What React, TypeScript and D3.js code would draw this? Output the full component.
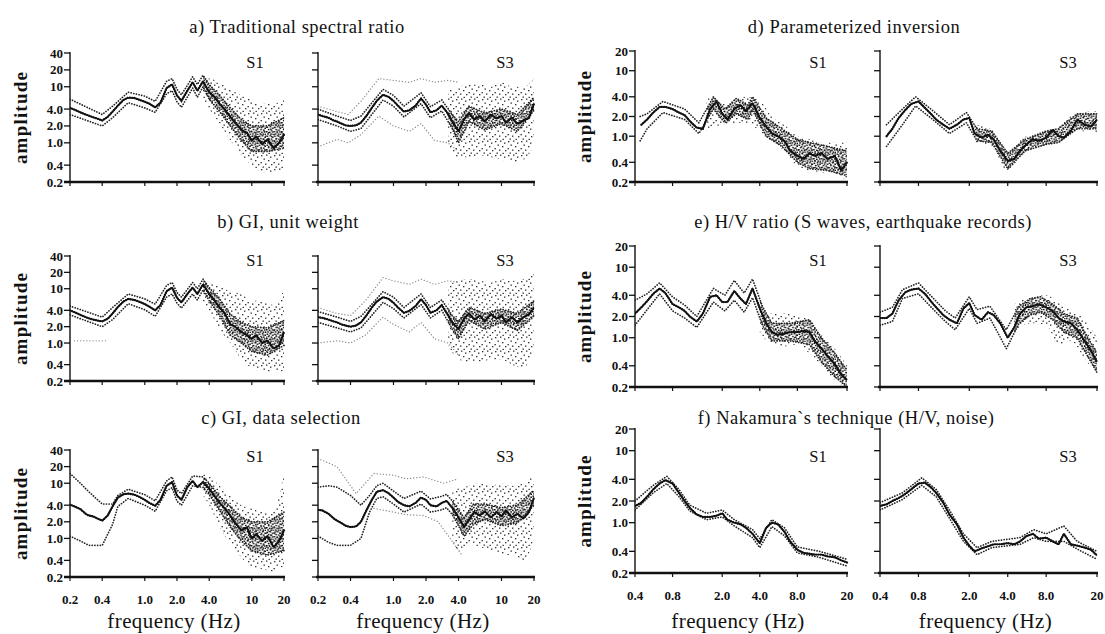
import React from "react";
import * as d3 from "d3";

// ---------------- DATA ----------------
const FREQ_LEFT = [0.2,0.22,0.25,0.28,0.3,0.33,0.36,0.4,0.45,0.5,0.56,0.63,0.7,0.8,0.9,1.0,1.1,1.25,1.4,1.6,1.8,2.0,2.2,2.5,2.8,3.1,3.5,4.0,4.5,5.0,5.6,6.3,7.0,8.0,9.0,10,11,12.5,14,16,18,20];
const FREQ_RIGHT = [0.4,0.45,0.5,0.56,0.63,0.7,0.8,0.9,1.0,1.1,1.25,1.4,1.6,1.8,2.0,2.2,2.5,2.8,3.1,3.5,4.0,4.5,5.0,5.6,6.3,7.0,8.0,9.0,10,11,12.5,14,16,18,20];

const LEFT_X_TICKS = [0.2, 0.4, 1, 2, 4, 10, 20];
const LEFT_X_LABELS = ["0.2", "0.4", "1.0", "2.0", "4.0", "10", "20"];
const RIGHT_X_TICKS = [0.4, 0.8, 2, 4, 8, 20];
const RIGHT_X_LABELS = ["0.4", "0.8", "2.0", "4.0", "8.0", "20"];
const LEFT_Y_TICKS = [0.2, 0.4, 1, 2, 4, 10, 20, 40];
const LEFT_Y_LABELS = ["0.2", "0.4", "1.0", "2.0", "4.0", "10", "20", "40"];
const RIGHT_Y_TICKS = [0.2, 0.4, 1, 2, 4, 10, 20];
const RIGHT_Y_LABELS = ["0.2", "0.4", "1.0", "2.0", "4.0", "10", "20"];

const TITLES = [
  "a) Traditional spectral ratio",
  "b) GI, unit weight",
  "c) GI, data selection",
  "d) Parameterized inversion",
  "e) H/V ratio (S waves, earthquake records)",
  "f) Nakamura`s technique (H/V, noise)",
];
const STATIONS = ["S1", "S3"];

// a) traditional spectral ratio
const A_S1_MEAN = [4.2,3.9,3.5,3.2,3.05,2.85,2.7,2.5,2.9,3.6,4.6,5.8,6.4,6.3,5.8,5.4,5.0,4.3,5.2,9.5,11,7.0,5.6,8.5,12,8.5,12.5,8.0,6.5,5.0,3.9,2.9,2.3,1.7,1.5,1.1,1.3,0.95,1.15,0.8,1.0,1.4];
const A_S1_BAND_F = [0.2,0.4,0.5,0.7,1.0,1.25,1.6,1.8,2.0,2.2,2.8,3.1,3.5,4.0,5.0,6.3,8,10,14,20];
const A_S1_BAND_HI = [6.0,3.2,4.5,8.0,6.8,5.5,12.5,14,9,7.2,15,11,16,11,7,4.2,2.6,2.0,2.0,2.8];
const A_S1_BAND_LO = [3.2,2.0,2.8,5.2,4.2,3.5,7.5,8.5,5.4,4.3,9.5,6.5,10,6,3.6,2.0,1.1,0.7,0.7,0.8];
const A_S1_CLOUD_F = [3.5,4,5,6.3,8,10,12.5,16,20];
const A_S1_CLOUD_HI = [14,14,12,9,7,6,5,5,6];
const A_S1_CLOUD_LO = [6,4,2.2,1.1,0.6,0.4,0.3,0.3,0.35];

const A_S3_MEAN = [3.2,3.0,2.8,2.5,2.4,2.2,2.05,2.0,2.05,2.3,3.0,4.2,5.6,7.2,6.6,5.6,4.6,3.6,3.8,4.6,6.2,4.8,3.5,3.8,4.6,3.6,2.4,1.6,2.6,3.4,2.6,3.0,2.4,3.2,2.7,3.0,2.3,2.8,2.2,2.5,2.8,5.0];
const A_S3_BAND_F = [0.2,0.3,0.4,0.5,0.8,1.0,1.25,1.8,2.2,2.8,3.5,4.0,5,7,10,14,20];
const A_S3_BAND_HI = [4.0,3.0,2.5,3.0,9,7,4.5,7.8,4.4,5.8,3.2,2.4,4.5,3.4,4.0,3.2,6.5];
const A_S3_BAND_LO = [2.6,2.0,1.6,1.8,5.8,4.5,2.9,5.0,2.8,3.7,1.8,1.0,2.4,1.7,2.2,1.6,3.8];
const A_S3_OUT_F = [0.2,0.3,0.38,0.5,0.73,1.0,1.4,1.8,2.4,3.2,4.0];
const A_S3_OUT_HI = [4.5,3.6,3.2,5.5,14,13,12,14,12,13,12];
const A_S3_OUT_LO = [0.85,1.15,1.0,1.4,3.0,2.0,1.6,2.2,1.1,1.0,0.7];
const A_S3_CLOUD_F = [3.2,4,5,6.3,8,10,12.5,16,20];
const A_S3_CLOUD_HI = [9,10,11,11,10,12,10,10,14];
const A_S3_CLOUD_LO = [0.9,0.55,0.55,0.6,0.55,0.5,0.45,0.5,0.9];

// b) GI, unit weight
const B_S1_MEAN = [4.0,3.7,3.3,3.0,2.85,2.7,2.6,2.5,2.8,3.5,4.6,5.8,6.5,6.2,5.7,5.2,4.7,4.0,5.0,9.0,10.5,6.8,5.6,8.0,10.5,8.0,12,8.0,6.0,4.5,3.5,2.2,2.0,1.6,1.4,1.2,1.4,1.0,1.1,0.8,0.9,1.6];
const B_S1_BAND_F = [0.2,0.4,0.5,0.7,1.0,1.25,1.6,1.8,2.0,2.2,2.8,3.1,3.5,4.0,5.0,6.3,8,10,14,20];
const B_S1_BAND_HI = [4.8,3.0,4.5,8,6.5,5.2,11.5,13,8.5,7,13,10,15,10.5,6.5,3.4,2.4,2.0,1.9,2.6];
const B_S1_BAND_LO = [3.3,2.0,2.7,5.3,4.1,3.1,7,8,5.4,4.4,8,6.2,9.5,6,3.2,1.4,1.0,0.7,0.6,0.9];
const B_S1_OUT_LO_F = [0.22,0.3,0.45];
const B_S1_OUT_LO = [1.1,1.1,1.1];
const B_S1_CLOUD_F = [3.5,4,5,6.3,8,10,12.5,16,20];
const B_S1_CLOUD_HI = [14,13,11,9,8,6,6,5,10];
const B_S1_CLOUD_LO = [6,4,1.8,1.0,0.5,0.35,0.3,0.3,0.3];

const B_S3_MEAN = [3.0,2.9,2.7,2.5,2.4,2.2,2.1,2.0,2.1,2.4,3.2,4.5,5.8,7.0,6.5,5.5,4.5,3.6,3.9,4.8,6.4,5.0,3.6,4.0,5.0,3.6,2.4,1.8,2.8,3.5,2.7,3.2,2.5,3.4,2.8,3.2,2.4,3.0,2.4,3.0,3.4,4.5];
const B_S3_BAND_F = [0.2,0.3,0.4,0.5,0.8,1.0,1.25,1.8,2.2,2.8,3.5,4.0,5,7,10,14,20];
const B_S3_BAND_HI = [3.8,3.0,2.5,3.1,8.8,7,4.5,8,4.5,6.2,3.2,2.5,4.5,3.5,4.2,3.5,6];
const B_S3_BAND_LO = [2.4,1.9,1.6,1.9,5.6,4.3,2.9,5.1,2.9,4,1.8,1.2,2.6,1.8,2.4,1.7,3.2];
const B_S3_OUT_F = [0.2,0.3,0.4,0.55,0.8,1.0,1.4,1.8,2.4,3.2,4.0];
const B_S3_OUT_HI = [4.5,3.5,3.2,6,16,14,12,15,12,14,13];
const B_S3_OUT_LO = [1.0,1.1,1.0,1.4,3.0,2.2,1.6,2.4,1.2,1.0,0.6];
const B_S3_CLOUD_F = [3.2,4,5,6.3,8,10,12.5,16,20];
const B_S3_CLOUD_HI = [12,14,15,14,13,15,14,15,25];
const B_S3_CLOUD_LO = [0.9,0.5,0.45,0.45,0.5,0.5,0.4,0.35,0.8];

// c) GI, data selection
const C_S1_MEAN = [4.1,3.8,3.4,2.8,2.6,2.5,2.3,2.1,2.6,3.8,5.5,6.3,6.5,6.2,5.6,5.0,4.4,3.9,5.0,9.0,10.5,6.0,5.0,8.5,11,8.5,10.5,8.0,5.8,4.4,3.5,2.6,1.9,1.4,1.6,1.0,1.2,0.9,1.1,0.7,0.9,1.4];
const C_S1_BAND_F = [0.2,0.25,0.3,0.4,0.5,0.56,0.7,1.0,1.25,1.6,1.8,2.0,2.2,2.8,3.5,4.0,5.0,6.3,8,10,14,20];
const C_S1_BAND_HI = [15,10,7,4.2,4.2,6,7.8,6.2,4.8,11,13,7.5,6.5,13.5,13,10,5.8,3.8,2.4,2.0,2.0,3.0];
const C_S1_BAND_LO = [1.1,0.9,0.75,0.75,1.8,3.8,5.3,4.0,3.1,7.3,8.3,4.7,4.0,9,8.4,6.2,3.2,1.6,0.9,0.6,0.5,0.6];
const C_S1_CLOUD_F = [3.5,4,5,6.3,8,10,12.5,16,18,20];
const C_S1_CLOUD_HI = [16,14,9,6,4,3.5,3,3,6,16];
const C_S1_CLOUD_LO = [6,4,1.6,0.8,0.45,0.3,0.28,0.25,0.3,0.3];

const C_S3_MEAN = [3.3,3.2,2.8,2.3,2.1,1.9,1.7,1.6,1.65,2.0,3.2,5.0,7.0,7.5,6.6,5.5,4.6,4.0,3.8,4.4,5.5,5.0,4.0,3.8,4.4,4.8,3.6,2.4,1.6,2.2,3.0,2.6,3.1,2.4,3.0,2.5,3.2,2.4,2.8,2.3,3.0,5.5];
const C_S3_BAND_F = [0.2,0.25,0.3,0.4,0.5,0.6,0.7,0.8,1.0,1.25,1.8,2.2,2.8,3.1,3.5,4.0,4.5,5.5,7,10,14,20];
const C_S3_BAND_HI = [8.5,9,8.5,6,4.0,6,9,10,7.2,5.3,7.2,5.2,5.8,6.3,4.8,3.3,2.4,4.2,4.2,3.6,4.0,7.5];
const C_S3_BAND_LO = [1.1,0.85,0.75,0.75,1.0,3.0,5.3,5.7,4.2,3.0,4.2,3.0,3.3,3.6,2.7,1.7,1.1,1.8,2.2,1.7,1.9,4.0];
const C_S3_OUT_HI_F = [0.2,0.3,0.45,0.66,1.0,1.3,1.9,2.9,4.0];
const C_S3_OUT_HI = [28,20,6.5,15,14,12,13,10,12];
const C_S3_OUT_LO_F = [0.66,1.0,1.3,1.9,2.6,4.3];
const C_S3_OUT_LO = [3.5,3.0,2.7,2.6,2.0,0.5];
const C_S3_CLOUD_F = [3.5,4,5,6.3,8,10,12.5,16,20];
const C_S3_CLOUD_HI = [8,8,9,10,9,10,9,10,16];
const C_S3_CLOUD_LO = [1.0,0.6,0.8,0.7,0.6,0.5,0.5,0.4,1.0];

// d) parameterized inversion
const D_S1_MEAN = [null,1.5,1.8,2.3,2.8,2.8,2.6,2.3,2.1,1.7,1.35,1.3,2.6,3.4,2.2,1.8,2.6,3.0,2.4,3.2,1.9,1.4,1.1,1.0,0.85,0.6,0.5,0.45,0.55,0.5,0.55,0.45,0.5,0.3,0.4];
const D_S1_BAND_F = [0.44,0.5,0.67,1.0,1.3,1.7,2.1,2.6,3.2,3.5,4.5,6,8,10,14,20];
const D_S1_BAND_HI = [2.0,2.2,3.4,2.6,1.6,4.0,2.6,3.8,3.0,4.0,1.9,1.3,0.9,0.8,0.7,0.6];
const D_S1_BAND_LO = [0.85,1.3,2.3,1.8,1.1,2.6,1.6,2.2,1.8,2.5,1.0,0.7,0.4,0.32,0.3,0.25];
const D_S1_CLOUD_F = [1.5,2,3,4,5,6.3,8,10,12.5,16,20];
const D_S1_CLOUD_HI = [4,3.2,4,3.5,2,1.5,1.0,0.9,0.8,0.8,0.8];
const D_S1_CLOUD_LO = [1.2,1.5,1.6,1.2,0.8,0.6,0.35,0.3,0.28,0.25,0.22];

const D_S3_MEAN = [null,1.0,1.3,1.9,2.5,3.1,3.4,2.7,2.2,1.8,1.5,1.3,1.5,1.8,1.9,1.1,0.95,1.05,0.9,0.6,0.42,0.45,0.6,0.75,0.9,0.85,0.95,1.25,1.0,0.95,1.2,1.8,1.5,1.4,1.8];
const D_S3_BAND_F = [0.45,0.6,0.76,1.0,1.4,1.9,2.3,3.0,4.0,5.5,8,10,14,20];
const D_S3_BAND_HI = [1.5,2.6,4.0,2.6,1.5,2.3,1.3,1.2,0.55,0.9,1.2,1.3,2.2,2.2];
const D_S3_BAND_LO = [0.7,1.5,2.9,1.9,1.1,1.6,0.85,0.8,0.32,0.6,0.75,0.8,1.3,1.3];
const D_S3_CLOUD_F = [2.2,3,4,5,7,10,14,20];
const D_S3_CLOUD_HI = [1.5,1.3,0.6,0.9,1.1,1.4,2.3,2.4];
const D_S3_CLOUD_LO = [0.8,0.7,0.28,0.5,0.7,0.8,1.2,1.1];

// e) H/V ratio, S waves
const E_S1_MEAN = [2.2,2.7,3.3,4.2,5.0,4.3,3.0,2.7,2.4,2.0,1.7,2.2,3.8,4.0,3.2,3.2,4.6,3.6,3.0,5.0,2.6,1.6,1.2,1.1,1.15,1.2,1.2,1.25,1.2,0.9,0.7,0.55,0.42,0.3,0.25];
const E_S1_BAND_F = [0.4,0.5,0.63,0.8,1.0,1.25,1.7,2.1,2.5,3.0,3.5,4.2,5,7,10,12.5,16,20];
const E_S1_BAND_HI = [3.4,4.2,6,3.8,2.9,2.0,5.0,4.0,6.5,4.3,6.8,2.8,1.6,1.6,1.8,1.0,0.6,0.35];
const E_S1_BAND_LO = [1.5,2.5,4.2,2.4,1.9,1.4,3.2,2.4,3.4,2.3,3.7,1.5,0.9,0.9,0.8,0.45,0.28,0.2];
const E_S1_CLOUD_F = [4,5,6.3,8,10,12.5,16,20];
const E_S1_CLOUD_HI = [3,2.2,2.2,2.0,1.8,1.1,0.7,0.4];
const E_S1_CLOUD_LO = [1.2,0.8,0.75,0.8,0.6,0.4,0.25,0.2];

const E_S3_MEAN = [1.9,1.9,2.2,3.4,4.4,4.8,5.0,4.2,3.3,2.7,2.1,1.8,1.6,2.6,3.1,2.1,1.8,2.3,2.1,1.6,1.0,1.4,2.2,2.7,2.8,3.0,2.7,2.4,1.9,1.7,1.6,1.3,0.9,0.65,0.45];
const E_S3_BAND_F = [0.4,0.5,0.6,0.8,1.05,1.3,1.55,2.0,2.3,2.9,3.9,4.9,6,7.2,9,11,14,16,20];
const E_S3_BAND_HI = [2.3,2.7,4.8,6.0,3.6,2.4,1.9,3.8,2.5,2.8,1.3,2.8,3.6,3.8,3.0,2.2,1.9,1.2,0.6];
const E_S3_BAND_LO = [1.5,1.7,3.6,4.2,2.5,1.7,1.3,2.6,1.6,1.9,0.7,1.6,2.1,2.3,1.8,1.2,1.0,0.65,0.32];
const E_S3_CLOUD_F = [4.5,6,8,10,12.5,16,20];
const E_S3_CLOUD_HI = [3,3.8,4,3.2,2.5,1.8,1.0];
const E_S3_CLOUD_LO = [1.2,1.6,1.5,0.8,0.9,0.5,0.3];

// f) Nakamura's technique
const F_S1_MEAN = [1.7,1.9,2.3,2.9,3.5,3.9,3.5,2.6,2.0,1.6,1.3,1.2,1.2,1.25,1.35,1.1,1.0,0.95,0.85,0.7,0.52,0.85,1.0,0.95,0.75,0.55,0.42,0.38,0.37,0.36,0.36,0.34,0.33,0.3,0.28];
const F_S1_BAND_F = [0.4,0.56,0.72,0.9,1.1,1.5,2.0,2.5,3.5,4.0,5.0,6.3,8,12,20];
const F_S1_BAND_HI = [2.0,3.3,4.4,2.9,1.75,1.35,1.5,1.1,0.8,0.6,1.1,0.85,0.46,0.4,0.31];
const F_S1_BAND_LO = [1.5,2.6,3.5,2.3,1.45,1.1,1.2,0.9,0.62,0.45,0.88,0.66,0.38,0.33,0.25];

const F_S3_MEAN = [1.7,1.8,2.0,2.2,2.5,2.9,3.5,3.6,3.1,2.6,1.9,1.3,0.95,0.62,0.48,0.4,0.44,0.47,0.5,0.5,0.52,0.5,0.55,0.65,0.7,0.6,0.62,0.55,0.5,0.7,0.5,0.48,0.45,0.42,0.35];
const F_S3_BAND_F = [0.4,0.6,0.85,1.1,1.4,1.8,2.3,3,5,6.4,8,11,14,20];
const F_S3_BAND_HI = [1.9,2.6,4.2,2.9,1.5,0.7,0.45,0.55,0.62,0.8,0.7,0.9,0.55,0.4];
const F_S3_BAND_LO = [1.5,2.1,3.3,2.3,1.15,0.55,0.36,0.45,0.5,0.62,0.55,0.55,0.43,0.31];

// ---------------- LAYOUT / STYLE ----------------
const W = 1105;
const H = 634;
const FONT = "'Liberation Serif', 'DejaVu Serif', 'Times New Roman', serif";
const LEFT_ROWS = [
  { top: 53, bottom: 182 },
  { top: 256, bottom: 381 },
  { top: 450, bottom: 577 },
];
const RIGHT_ROWS = [
  { top: 51, bottom: 182 },
  { top: 246, bottom: 387 },
  { top: 429, bottom: 573 },
];
const LEFT_COLS = [
  { x0: 70, x1: 284 },
  { x0: 318, x1: 534 },
];
const RIGHT_COLS = [
  { x0: 635, x1: 847 },
  { x0: 880, x1: 1097 },
];
const TITLE_BASE = [33, 228, 424];
const TITLE_X = [297, 288, 281, 854, 863, 846];
const STATION_BASE = [68, 266, 462];

type Pt = [number, number | null];
const zip = (f: number[], v: (number | null)[]): Pt[] => f.map((x, i) => [x, v[i]] as Pt);

interface Cloud { f: number[]; hi: number[]; lo: number[] }
interface PanelSpec {
  id: string;
  box: { x0: number; x1: number; top: number; bottom: number };
  fDomain: [number, number];
  yDomain: [number, number];
  xTicks: number[];
  xLabels: string[] | null;
  yTicks: number[];
  yLabels: string[] | null;
  station: string;
  stationY: number;
  mean: Pt[];
  bandF: number[];
  bandHi: number[];
  bandLo: number[];
  outHi?: Pt[];
  outLo?: Pt[];
  cloud?: Cloud;
}

function makePanels(): PanelSpec[] {
  const left = (row: number, col: number) => ({ ...LEFT_COLS[col], ...LEFT_ROWS[row] });
  const right = (row: number, col: number) => ({ ...RIGHT_COLS[col], ...RIGHT_ROWS[row] });
  const L = {
    fDomain: [0.2, 20] as [number, number],
    yDomain: [0.2, 40] as [number, number],
    xTicks: LEFT_X_TICKS,
    yTicks: LEFT_Y_TICKS,
  };
  const R = {
    fDomain: [0.4, 20] as [number, number],
    yDomain: [0.2, 20] as [number, number],
    xTicks: RIGHT_X_TICKS,
    yTicks: RIGHT_Y_TICKS,
  };
  return [
    { id: "aS1", box: left(0, 0), ...L, xLabels: null, yLabels: LEFT_Y_LABELS, station: STATIONS[0], stationY: STATION_BASE[0],
      mean: zip(FREQ_LEFT, A_S1_MEAN), bandF: A_S1_BAND_F, bandHi: A_S1_BAND_HI, bandLo: A_S1_BAND_LO,
      cloud: { f: A_S1_CLOUD_F, hi: A_S1_CLOUD_HI, lo: A_S1_CLOUD_LO } },
    { id: "aS3", box: left(0, 1), ...L, xLabels: null, yLabels: null, station: STATIONS[1], stationY: STATION_BASE[0],
      mean: zip(FREQ_LEFT, A_S3_MEAN), bandF: A_S3_BAND_F, bandHi: A_S3_BAND_HI, bandLo: A_S3_BAND_LO,
      outHi: zip(A_S3_OUT_F, A_S3_OUT_HI), outLo: zip(A_S3_OUT_F, A_S3_OUT_LO),
      cloud: { f: A_S3_CLOUD_F, hi: A_S3_CLOUD_HI, lo: A_S3_CLOUD_LO } },
    { id: "bS1", box: left(1, 0), ...L, xLabels: null, yLabels: LEFT_Y_LABELS, station: STATIONS[0], stationY: STATION_BASE[1],
      mean: zip(FREQ_LEFT, B_S1_MEAN), bandF: B_S1_BAND_F, bandHi: B_S1_BAND_HI, bandLo: B_S1_BAND_LO,
      outLo: zip(B_S1_OUT_LO_F, B_S1_OUT_LO),
      cloud: { f: B_S1_CLOUD_F, hi: B_S1_CLOUD_HI, lo: B_S1_CLOUD_LO } },
    { id: "bS3", box: left(1, 1), ...L, xLabels: null, yLabels: null, station: STATIONS[1], stationY: STATION_BASE[1],
      mean: zip(FREQ_LEFT, B_S3_MEAN), bandF: B_S3_BAND_F, bandHi: B_S3_BAND_HI, bandLo: B_S3_BAND_LO,
      outHi: zip(B_S3_OUT_F, B_S3_OUT_HI), outLo: zip(B_S3_OUT_F, B_S3_OUT_LO),
      cloud: { f: B_S3_CLOUD_F, hi: B_S3_CLOUD_HI, lo: B_S3_CLOUD_LO } },
    { id: "cS1", box: left(2, 0), ...L, xLabels: LEFT_X_LABELS, yLabels: LEFT_Y_LABELS, station: STATIONS[0], stationY: STATION_BASE[2],
      mean: zip(FREQ_LEFT, C_S1_MEAN), bandF: C_S1_BAND_F, bandHi: C_S1_BAND_HI, bandLo: C_S1_BAND_LO,
      cloud: { f: C_S1_CLOUD_F, hi: C_S1_CLOUD_HI, lo: C_S1_CLOUD_LO } },
    { id: "cS3", box: left(2, 1), ...L, xLabels: LEFT_X_LABELS, yLabels: null, station: STATIONS[1], stationY: STATION_BASE[2],
      mean: zip(FREQ_LEFT, C_S3_MEAN), bandF: C_S3_BAND_F, bandHi: C_S3_BAND_HI, bandLo: C_S3_BAND_LO,
      outHi: zip(C_S3_OUT_HI_F, C_S3_OUT_HI), outLo: zip(C_S3_OUT_LO_F, C_S3_OUT_LO),
      cloud: { f: C_S3_CLOUD_F, hi: C_S3_CLOUD_HI, lo: C_S3_CLOUD_LO } },
    { id: "dS1", box: right(0, 0), ...R, xLabels: null, yLabels: RIGHT_Y_LABELS, station: STATIONS[0], stationY: STATION_BASE[0],
      mean: zip(FREQ_RIGHT, D_S1_MEAN), bandF: D_S1_BAND_F, bandHi: D_S1_BAND_HI, bandLo: D_S1_BAND_LO,
      cloud: { f: D_S1_CLOUD_F, hi: D_S1_CLOUD_HI, lo: D_S1_CLOUD_LO } },
    { id: "dS3", box: right(0, 1), ...R, xLabels: null, yLabels: null, station: STATIONS[1], stationY: STATION_BASE[0],
      mean: zip(FREQ_RIGHT, D_S3_MEAN), bandF: D_S3_BAND_F, bandHi: D_S3_BAND_HI, bandLo: D_S3_BAND_LO,
      cloud: { f: D_S3_CLOUD_F, hi: D_S3_CLOUD_HI, lo: D_S3_CLOUD_LO } },
    { id: "eS1", box: right(1, 0), ...R, xLabels: null, yLabels: RIGHT_Y_LABELS, station: STATIONS[0], stationY: STATION_BASE[1],
      mean: zip(FREQ_RIGHT, E_S1_MEAN), bandF: E_S1_BAND_F, bandHi: E_S1_BAND_HI, bandLo: E_S1_BAND_LO,
      cloud: { f: E_S1_CLOUD_F, hi: E_S1_CLOUD_HI, lo: E_S1_CLOUD_LO } },
    { id: "eS3", box: right(1, 1), ...R, xLabels: null, yLabels: null, station: STATIONS[1], stationY: STATION_BASE[1],
      mean: zip(FREQ_RIGHT, E_S3_MEAN), bandF: E_S3_BAND_F, bandHi: E_S3_BAND_HI, bandLo: E_S3_BAND_LO,
      cloud: { f: E_S3_CLOUD_F, hi: E_S3_CLOUD_HI, lo: E_S3_CLOUD_LO } },
    { id: "fS1", box: right(2, 0), ...R, xLabels: RIGHT_X_LABELS, yLabels: RIGHT_Y_LABELS, station: STATIONS[0], stationY: STATION_BASE[2],
      mean: zip(FREQ_RIGHT, F_S1_MEAN), bandF: F_S1_BAND_F, bandHi: F_S1_BAND_HI, bandLo: F_S1_BAND_LO },
    { id: "fS3", box: right(2, 1), ...R, xLabels: RIGHT_X_LABELS, yLabels: null, station: STATIONS[1], stationY: STATION_BASE[2],
      mean: zip(FREQ_RIGHT, F_S3_MEAN), bandF: F_S3_BAND_F, bandHi: F_S3_BAND_HI, bandLo: F_S3_BAND_LO },
  ];
}

// speckle textures (style only)
const CORE_DOTS = [[0.5, 0.5], [3.5, 0], [6, 1.5], [1.8, 2.8], [4.6, 3.4], [0, 5], [2.8, 5.6], [5.6, 5.2], [1.2, 7.2], [4.2, 7.4], [6.4, 7.6]];
const SCATTER_DOTS = [[1, 1], [6, 0.5], [10, 2.5], [3.5, 4.5], [8, 6], [0.5, 8], [5, 9.5], [11, 10], [2.5, 12.5], [8.5, 12.8]];

function Panel({ p }: { p: PanelSpec }) {
  const { x0, x1, top, bottom } = p.box;
  const xs = d3.scaleLog().domain(p.fDomain).range([x0, x1]);
  const ys = d3.scaleLog().domain(p.yDomain).range([bottom, top]).clamp(true);
  const line = d3
    .line<Pt>()
    .defined((d) => d[1] != null)
    .x((d) => xs(d[0]))
    .y((d) => ys(d[1] as number));
  const cloud = p.cloud;
  const cloudPath = cloud
    ? d3
        .area<number>()
        .x((f) => xs(f))
        .y0((_, i) => ys(cloud.lo[i]))
        .y1((_, i) => ys(cloud.hi[i]))
        .curve(d3.curveMonotoneX)(cloud.f)
    : null;
  const corePath = cloud
    ? d3
        .area<number>()
        .x((f) => xs(f))
        .y0((_, i) => ys(p.bandLo[i]))
        .y1((_, i) => ys(p.bandHi[i]))(p.bandF)
    : null;
  const clipId = `clip-${p.id}`;
  const coreClip = `core-${p.id}`;
  const cloudStart = cloud ? xs(cloud.f[0]) : x1;
  return (
    <g>
      <clipPath id={clipId}>
        <rect x={x0} y={top - 6} width={x1 - x0 + 2} height={bottom - top + 6} />
      </clipPath>
      <clipPath id={coreClip}>
        <rect x={cloudStart} y={top - 6} width={Math.max(0, x1 - cloudStart + 2)} height={bottom - top + 6} />
      </clipPath>
      <g clipPath={`url(#${clipId})`}>
        {cloudPath && <path d={cloudPath} fill="url(#speckScatter)" stroke="none" />}
        {corePath && (
          <g clipPath={`url(#${coreClip})`}>
            <path d={corePath} fill="url(#speckCore)" stroke="none" />
          </g>
        )}
        {p.outHi && (
          <path d={line(p.outHi) || ""} fill="none" stroke="#8a8a8a" strokeWidth={1.3} strokeDasharray="0.1 3" strokeLinecap="round" />
        )}
        {p.outLo && (
          <path d={line(p.outLo) || ""} fill="none" stroke="#8a8a8a" strokeWidth={1.3} strokeDasharray="0.1 3" strokeLinecap="round" />
        )}
        <path d={line(zip(p.bandF, p.bandHi)) || ""} fill="none" stroke="#222" strokeWidth={1.7} strokeDasharray="0.1 2.6" strokeLinecap="round" />
        <path d={line(zip(p.bandF, p.bandLo)) || ""} fill="none" stroke="#222" strokeWidth={1.7} strokeDasharray="0.1 2.6" strokeLinecap="round" />
        <path d={line(p.mean) || ""} fill="none" stroke="#111" strokeWidth={1.4} strokeLinejoin="round" />
        <path d={line(p.mean) || ""} fill="none" stroke="#111" strokeWidth={2.3} strokeDasharray="0.1 2.2" strokeLinecap="round" />
      </g>
      {/* y axis */}
      <line x1={x0} x2={x0} y1={top - 1} y2={bottom} stroke="#111" strokeWidth={1.4} />
      {p.yTicks.map((t, i) => (
        <g key={`yt${i}`}>
          <line x1={x0 - 6} x2={x0} y1={ys(t)} y2={ys(t)} stroke="#111" strokeWidth={1.3} />
          {p.yLabels && (
            <text x={x0 - 7} y={ys(t) + 4.5} textAnchor="end" fontFamily={FONT} fontSize={13} fontWeight={700} fill="#111">
              {p.yLabels[i]}
            </text>
          )}
        </g>
      ))}
      {/* x axis */}
      <line x1={x0 - (p.yLabels ? 6 : 2)} x2={x1 + 1} y1={bottom} y2={bottom} stroke="#111" strokeWidth={2.6} />
      {p.xTicks.map((t, i) => (
        <g key={`xt${i}`}>
          <line x1={xs(t)} x2={xs(t)} y1={bottom} y2={bottom + 4} stroke="#111" strokeWidth={1.2} />
          {p.xLabels && (
            <text x={xs(t)} y={bottom + 27} textAnchor="middle" fontFamily={FONT} fontSize={13} fontWeight={700} fill="#111">
              {p.xLabels[i]}
            </text>
          )}
        </g>
      ))}
      <text x={x1 - 29} y={p.stationY} textAnchor="middle" fontFamily={FONT} fontSize={16.5} fill="#111">
        {p.station}
      </text>
    </g>
  );
}

export default function App() {
  const panels = makePanels();
  return (
    <svg
      width={W}
      height={H}
      viewBox={`0 0 ${W} ${H}`}
      style={{ position: "absolute", left: 0, top: 0, background: "#fff", display: "block" }}
    >
      <defs>
        <pattern id="speckCore" width={7.6} height={9} patternUnits="userSpaceOnUse">
          {CORE_DOTS.map((d, i) => (
            <rect key={i} x={d[0]} y={d[1]} width={1.6} height={1.5} fill="#111" />
          ))}
        </pattern>
        <pattern id="speckScatter" width={13} height={14} patternUnits="userSpaceOnUse">
          {SCATTER_DOTS.map((d, i) => (
            <rect key={i} x={d[0]} y={d[1]} width={1.4} height={1.3} fill="#333" />
          ))}
        </pattern>
      </defs>
      <rect x={0} y={0} width={W} height={H} fill="#fff" />
      {TITLES.map((t, i) => (
        <text
          key={t}
          x={TITLE_X[i]}
          y={TITLE_BASE[i % 3]}
          textAnchor="middle"
          fontFamily={FONT}
          fontSize={18.5}
          letterSpacing={0.5}
          fill="#111"
        >
          {t}
        </text>
      ))}
      {LEFT_ROWS.map((r, i) => (
        <text
          key={`al${i}`}
          transform={`translate(27,${(r.top + r.bottom) / 2}) rotate(-90)`}
          textAnchor="middle"
          fontFamily={FONT}
          fontSize={19}
          fontWeight={700}
          letterSpacing={1.2}
          fill="#111"
        >
          amplitude
        </text>
      ))}
      {RIGHT_ROWS.map((r, i) => (
        <text
          key={`ar${i}`}
          transform={`translate(591,${(r.top + r.bottom) / 2}) rotate(-90)`}
          textAnchor="middle"
          fontFamily={FONT}
          fontSize={19}
          fontWeight={700}
          letterSpacing={1.2}
          fill="#111"
        >
          amplitude
        </text>
      ))}
      {[...LEFT_COLS, ...RIGHT_COLS].map((c, i) => (
        <text
          key={`fq${i}`}
          x={(c.x0 + c.x1) / 2 - 3}
          y={628}
          textAnchor="middle"
          fontFamily={FONT}
          fontSize={21}
          letterSpacing={0.4}
          fill="#111"
        >
          frequency (Hz)
        </text>
      ))}
      {panels.map((p) => (
        <Panel key={p.id} p={p} />
      ))}
    </svg>
  );
}
